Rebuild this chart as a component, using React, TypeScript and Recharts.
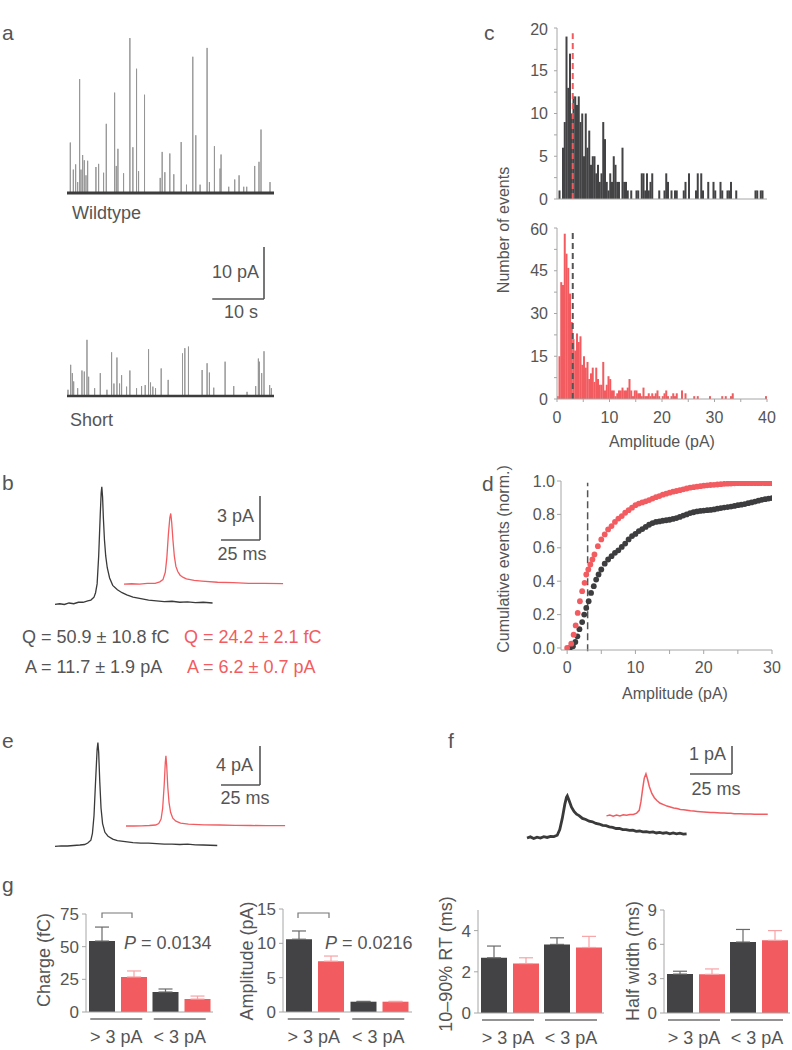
import React from 'react';
import {
  LineChart,
  Line,
  XAxis,
  YAxis,
  ReferenceLine,
  BarChart,
  Bar,
  ErrorBar,
  ScatterChart,
  Scatter,
} from 'recharts';

const INK = '#555555';
const DARK = '#434345';
const RED = '#f25c61';
const RED_ERR = '#f7a3a6';
const AXIS = '#a6a6a6';
const FONT = '"Liberation Sans", Arial, Helvetica, sans-serif';

// a: spontaneous events, time (s) and peak amplitude (pA)
const wtSpikeT = [0.64, 1.22, 1.67, 2.06, 2.44, 2.7, 3.02, 3.34, 3.67, 3.99, 5.59, 6.11, 7.07, 7.59, 9.2, 9.52, 9.84, 10.93, 12.15, 12.73, 13.44, 13.83, 14.98, 18.01, 18.39, 18.91, 19.87, 20.64, 22.06, 23.09, 24.31, 24.89, 25.72, 27.07, 27.52, 28.49, 29.58, 29.77, 31.25, 32.41, 33.25, 34.15, 34.73, 36.27, 37.1, 37.49, 39.23];
const wtSpikeA = [9.7, 4.5, 5.5, 2.1, 21.9, 4.5, 7.3, 6.3, 3.4, 6.2, 5.0, 5.6, 3.9, 13.3, 19.3, 5.2, 8.5, 3.8, 29.8, 8.8, 23.9, 4.2, 18.9, 2.9, 7.9, 4.0, 7.6, 3.6, 9.8, 1.6, 26.2, 11.1, 1.6, 27.9, 2.1, 9.0, 4.7, 7.4, 1.2, 2.6, 3.4, 1.2, 1.2, 5.2, 6.0, 12.2, 2.1];
const shSpikeT = [0.19, 0.71, 1.03, 1.29, 2.06, 2.89, 3.34, 3.86, 4.18, 5.34, 6.43, 7.72, 8.62, 9.07, 9.65, 10.16, 10.55, 11.51, 12.15, 13.44, 14.41, 15.11, 15.76, 16.14, 16.59, 17.11, 18.2, 19.55, 22.32, 22.77, 23.47, 26.11, 27.07, 27.52, 28.36, 30.55, 32.22, 34.79, 36.46, 36.98, 37.17, 37.62, 38.07, 39.16, 39.49];
const shSpikeA = [1.2, 6.0, 4.4, 2.8, 1.5, 4.9, 4.7, 10.8, 3.7, 1.5, 4.4, 1.2, 8.4, 2.4, 7.4, 2.4, 4.0, 1.8, 4.9, 1.5, 1.9, 2.1, 9.0, 2.6, 1.8, 1.5, 5.3, 3.1, 8.2, 9.2, 9.5, 5.0, 6.3, 4.5, 1.6, 6.6, 1.9, 0.8, 1.9, 7.2, 6.6, 4.4, 8.6, 2.1, 1.5];
const recordSpan = [0, 40];
const recordBase = [0, 0];

// b: average events, time (ms) and current (pA)
const bWtT = [0, 3, 6, 9, 12, 15, 18, 21, 23, 25, 26, 27, 28, 29, 29.6, 30, 30.5, 31, 31.7, 32.5, 33.5, 35, 37, 40, 43, 46, 50, 55, 60, 65, 70, 75, 80, 85, 90, 95, 101];
const bWtV = [-0.1, -0.05, -0.1, 0, -0.05, 0.05, 0.05, 0.15, 0.2, 0.4, 0.7, 1.3, 3.2, 6.0, 7.5, 7.9, 7.2, 5.8, 4.3, 3.2, 2.4, 1.7, 1.2, 0.9, 0.7, 0.55, 0.4, 0.3, 0.2, 0.15, 0.1, 0.12, 0.05, 0.08, 0.02, 0.05, 0.0];
const bShT = [0, 5, 10, 15, 20, 23, 25, 26.5, 27.5, 28.5, 29.4, 30, 30.6, 31.4, 32.3, 33.3, 34.5, 36, 38, 40, 45, 50, 60, 70, 80, 90, 102];
const bShV = [0, 0.02, 0, 0.05, 0.05, 0.15, 0.3, 0.8, 1.8, 3.4, 4.5, 4.8, 4.2, 3.0, 1.9, 1.2, 0.85, 0.6, 0.45, 0.35, 0.25, 0.2, 0.12, 0.1, 0.05, 0.05, 0.03];

// e: events > 3 pA
const eWtT = [0, 4, 8, 12, 16, 19, 21, 23, 24, 25, 26, 27, 27.5, 28, 28.7, 29.5, 30.5, 32, 34, 37, 40, 45, 50, 55, 60, 65, 70, 75, 80, 85, 90, 95, 104];
const eWtV = [-0.15, -0.1, -0.1, -0.05, 0, 0.05, 0.2, 0.5, 1.2, 3.0, 6.5, 9.8, 10.5, 9.5, 6.5, 3.8, 2.2, 1.3, 0.9, 0.6, 0.45, 0.35, 0.25, 0.2, 0.2, 0.15, 0.1, 0.1, 0.05, 0.08, 0.02, 0, -0.05];
const eShT = [0, 5, 10, 15, 19, 21, 22.5, 23.5, 24.5, 25.2, 25.6, 26.1, 26.8, 27.6, 28.6, 30, 32, 35, 40, 50, 60, 70, 80, 90, 102];
const eShV = [0, 0, 0.02, 0.05, 0.1, 0.25, 0.7, 1.8, 4.2, 6.5, 7.2, 6.2, 4.0, 2.4, 1.4, 0.8, 0.5, 0.3, 0.2, 0.12, 0.1, 0.06, 0.05, 0.04, 0.03];

// f: events < 3 pA
const fWtT = [0, 2, 4, 6, 8, 10, 12, 14, 16, 18, 19.5, 21, 22.5, 23.5, 24, 25, 26.5, 28, 29.5, 31, 33, 35, 37, 39, 41, 43, 45, 47, 49, 51, 53, 55, 57, 59, 61, 63, 65, 67, 69, 71, 73, 75, 77, 79, 81, 83, 85, 87, 89, 91, 93, 95];
const fWtV = [0.0, 0.04, -0.02, 0.03, 0.0, 0.05, 0.02, 0.06, 0.05, 0.1, 0.3, 0.7, 1.2, 1.45, 1.5, 1.35, 1.1, 0.95, 0.85, 0.8, 0.7, 0.66, 0.6, 0.58, 0.52, 0.5, 0.45, 0.44, 0.4, 0.38, 0.34, 0.34, 0.3, 0.3, 0.27, 0.28, 0.24, 0.25, 0.22, 0.23, 0.2, 0.22, 0.18, 0.2, 0.17, 0.19, 0.15, 0.18, 0.15, 0.17, 0.14, 0.15];
const fShT = [0, 2, 4, 6, 8, 10, 12, 14, 16, 18, 19.5, 20.5, 21.5, 22.5, 23.5, 24.5, 25.5, 27, 28.5, 30, 32, 34, 36, 38, 40, 42, 44, 46, 48, 50, 52, 54, 56, 58, 60, 62, 64, 66, 68, 70, 72, 74, 76, 78, 80, 82, 84, 86, 88, 90, 92, 94, 96];
const fShV = [0, 0.03, -0.01, 0.03, 0, 0.04, 0.02, 0.05, 0.05, 0.1, 0.2, 0.5, 0.95, 1.35, 1.5, 1.3, 1.05, 0.8, 0.65, 0.55, 0.45, 0.4, 0.35, 0.32, 0.28, 0.26, 0.23, 0.22, 0.2, 0.18, 0.17, 0.16, 0.15, 0.14, 0.13, 0.12, 0.12, 0.11, 0.1, 0.1, 0.09, 0.09, 0.08, 0.08, 0.08, 0.07, 0.07, 0.07, 0.06, 0.06, 0.06, 0.06, 0.06];

// c: amplitude histograms, 1/3 pA bins from 0 to 40 pA
const BIN = 1 / 3;
const wtCounts = [
  0, 1, 0, 6, 9, 19, 13, 17, 10, 12,
  12, 11, 12, 9, 10, 5, 10, 6, 8, 4,
  5, 5, 3, 4, 2, 3, 9, 7, 2, 1,
  3, 2, 5, 4, 2, 2, 0, 6, 2, 2,
  1, 0, 1, 0, 0, 1, 1, 0, 3, 3,
  1, 3, 1, 2, 3, 0, 0, 0, 1, 0,
  0, 1, 3, 2, 0, 1, 0, 1, 1, 0,
  0, 0, 1, 2, 0, 3, 0, 0, 0, 1,
  3, 0, 3, 1, 0, 0, 2, 0, 0, 2,
  1, 0, 0, 2, 1, 0, 0, 1, 1, 2,
  0, 0, 1, 0, 0, 0, 0, 0, 0, 0,
  0, 0, 0, 1, 1, 0, 1, 1, 0, 0,
];
const shCounts = [
  1, 15, 41, 40, 58, 51, 46, 37, 27, 21,
  17, 23, 20, 22, 12, 15, 11, 13, 7, 9,
  11, 6, 11, 7, 5, 5, 13, 3, 5, 8,
  7, 3, 3, 1, 2, 3, 3, 4, 3, 3,
  4, 7, 3, 1, 3, 3, 2, 2, 1, 4,
  1, 1, 2, 1, 2, 1, 2, 3, 1, 0,
  1, 2, 3, 1, 0, 1, 2, 1, 2, 0,
  0, 3, 0, 2, 0, 0, 0, 0, 1, 0,
  1, 0, 0, 0, 0, 0, 0, 1, 0, 0,
  0, 0, 0, 0, 1, 0, 1, 0, 0, 1,
  2, 0, 0, 0, 0, 0, 0, 0, 0, 0,
  0, 0, 0, 0, 0, 0, 0, 0, 0, 1,
];

// d: cumulative distributions
const wtCumX = [0.4, 0.85, 1.2, 1.5, 1.8, 2.2, 2.5, 2.8, 3.15, 3.5, 3.9, 4.25, 4.6, 5, 5.5, 6, 6.5, 7, 7.5, 8, 8.5, 9, 9.5, 10, 10.5, 11, 11.5, 12, 12.5, 13, 13.5, 14, 14.5, 15, 15.5, 16, 16.5, 17, 17.5, 18, 18.5, 19, 19.5, 20, 20.5, 21, 21.5, 22, 22.5, 23, 23.5, 24, 24.5, 25, 25.5, 26, 26.5, 27, 27.5, 28, 28.5, 29, 29.5, 30];
const wtCumY = [0.0, 0.01, 0.036, 0.07, 0.113, 0.155, 0.2, 0.24, 0.28, 0.33, 0.37, 0.41, 0.44, 0.47, 0.505, 0.53, 0.55, 0.57, 0.585, 0.605, 0.625, 0.65, 0.67, 0.683, 0.7, 0.712, 0.725, 0.738, 0.748, 0.755, 0.758, 0.762, 0.765, 0.768, 0.773, 0.778, 0.785, 0.793, 0.8, 0.808, 0.813, 0.818, 0.821, 0.823, 0.825, 0.827, 0.83, 0.834, 0.838, 0.841, 0.844, 0.847, 0.851, 0.855, 0.858, 0.862, 0.867, 0.872, 0.877, 0.882, 0.887, 0.891, 0.895, 0.898];
const shCumX = [0, 0.6, 0.95, 1.25, 1.55, 1.87, 2.2, 2.55, 2.8, 3.1, 3.4, 3.7, 4, 4.5, 5, 5.5, 6, 6.5, 7, 7.5, 8, 8.5, 9, 9.5, 10, 10.5, 11, 11.5, 12, 12.5, 13, 13.5, 14, 14.5, 15, 15.5, 16, 16.5, 17, 17.5, 18, 18.5, 19, 19.5, 20, 20.5, 21, 21.5, 22, 22.5, 23, 23.5, 24, 24.5, 25, 25.5, 26, 26.5, 27, 27.5, 28, 28.5, 29, 29.5, 30];
const shCumY = [0, 0.026, 0.08, 0.135, 0.21, 0.28, 0.34, 0.39, 0.44, 0.47, 0.5, 0.53, 0.56, 0.61, 0.65, 0.68, 0.71, 0.73, 0.755, 0.775, 0.79, 0.81, 0.825, 0.84, 0.855, 0.865, 0.872, 0.878, 0.886, 0.895, 0.903, 0.91, 0.918, 0.924, 0.93, 0.936, 0.94, 0.945, 0.95, 0.955, 0.96, 0.963, 0.966, 0.969, 0.972, 0.974, 0.976, 0.977, 0.979, 0.981, 0.983, 0.984, 0.985, 0.986, 0.987, 0.987, 0.987, 0.987, 0.987, 0.987, 0.987, 0.987, 0.987, 0.987, 0.987];

// g: summary (mean, s.e.m.)
const groups = ['> 3 pA', '< 3 pA'];
const chargeWt = [54.3, 15.3];
const chargeWtErr = [10.7, 2.3];
const chargeSh = [26.8, 9.9];
const chargeShErr = [4.6, 2.3];
const ampWt = [10.6, 1.5];
const ampWtErr = [1.2, 0.05];
const ampSh = [7.4, 1.5];
const ampShErr = [0.75, 0.05];
const rtWt = [2.68, 3.33];
const rtWtErr = [0.57, 0.32];
const rtSh = [2.4, 3.18];
const rtShErr = [0.28, 0.54];
const hwWt = [3.4, 6.2];
const hwWtErr = [0.25, 1.1];
const hwSh = [3.38, 6.35];
const hwShErr = [0.47, 0.85];

function spikeTrain(times: number[], amps: number[]) {
  const t: number[] = [];
  const v: number[] = [];
  times.forEach((tt, i) => {
    t.push(tt, tt, tt);
    v.push(0, amps[i], 0);
  });
  return { t, v };
}

type Trace = { t: number[]; v: number[]; dt?: number; dv?: number; color: string; width: number };

function TracePanel({ box, x0, y0, sx, sy, traces, bar }: any) {
  const xDomain = [(box.left - x0) / sx, (box.left + box.width - x0) / sx];
  const yDomain = [(y0 - box.top - box.height) / sy, (y0 - box.top) / sy];
  const bx = (bar.px - x0) / sx;
  const by = (y0 - bar.py) / sy;
  return (
    <div style={{ position: 'absolute', left: box.left, top: box.top }}>
      <LineChart width={box.width} height={box.height} margin={{ top: 0, right: 0, bottom: 0, left: 0 }}>
        <XAxis type="number" dataKey="t" domain={xDomain} hide allowDataOverflow />
        <YAxis type="number" domain={yDomain} hide allowDataOverflow />
        {traces.map((tr: Trace, i: number) => (
          <Line
            key={i}
            data={tr.t.map((t, j) => ({ t: t + (tr.dt || 0), v: tr.v[j] + (tr.dv || 0) }))}
            dataKey="v"
            type="linear"
            stroke={tr.color}
            strokeWidth={tr.width}
            dot={false}
            activeDot={false}
            isAnimationActive={false}
          />
        ))}
        <ReferenceLine segment={[{ x: bx, y: by }, { x: bx, y: by + bar.lenV }]} stroke={INK} strokeWidth={1.6} />
        <ReferenceLine segment={[{ x: bx - bar.lenT, y: by }, { x: bx, y: by }]} stroke={INK} strokeWidth={1.6} />
      </LineChart>
    </div>
  );
}

const histTick = { fill: INK, fontSize: 16 };

// each bin is drawn the full bin width wide so neighbouring bins touch
const binShape = (fill: string) => (p: any) => {
  if (!p.height) return <g />;
  const cx = p.x + p.width / 2;
  return <rect x={cx - 1.0} y={p.y} width={2.0} height={p.height} fill={fill} />;
};

function Histogram({ top, height, counts, color, yMax, yTicks, labelEvery, xLabels, xHeight, dashColor, dashTop }: any) {
  const data = counts.map((n: number, i: number) => ({ x: (i + 0.5) * BIN, n }));
  return (
    <div style={{ position: 'absolute', left: 500, top }}>
      <BarChart width={280} height={height} data={data} margin={{ top: 8, right: 13, left: 0, bottom: 0 }}>
        <XAxis
          type="number"
          dataKey="x"
          domain={[0, 40]}
          ticks={[0, 5, 10, 15, 20, 25, 30, 35, 40]}
          tickFormatter={(v: number) => (v % 10 === 0 ? String(v) : '')}
          tick={xLabels ? histTick : false}
          tickSize={3}
          tickMargin={10}
          height={xHeight}
          stroke={AXIS}
          allowDataOverflow
        />
        <YAxis
          type="number"
          domain={[0, yMax]}
          ticks={yTicks}
          tickFormatter={(v: number) => (v % labelEvery === 0 ? String(v) : '')}
          tick={histTick}
          tickSize={3}
          tickMargin={6}
          width={57}
          stroke={AXIS}
          allowDataOverflow
        />
        <Bar dataKey="n" fill={color} barSize={1.5} shape={binShape(color)} isAnimationActive={false} />
        <ReferenceLine
          segment={[{ x: 3, y: 0 }, { x: 3, y: dashTop }]}
          stroke={dashColor}
          strokeWidth={2}
          strokeDasharray="6 4"
        />
      </BarChart>
    </div>
  );
}

const cumDot = (fill: string) => (p: any) => <circle cx={p.cx} cy={p.cy} r={2.9} fill={fill} />;

function GroupTick(p: any) {
  return (
    <g>
      <line x1={p.x - 27.5} x2={p.x + 24.5} y1={p.y + 7} y2={p.y + 7} stroke="#6f6f6f" strokeWidth={1.6} />
      <text x={p.x - 1.5} y={p.y + 31} textAnchor="middle" fill={INK} fontSize={18}>
        {p.payload.value}
      </text>
    </g>
  );
}

function SummaryBars({ left, width, axisW, mTop, mRight, xH, wt, wtErr, sh, shErr, domain, ticks }: any) {
  const data = groups.map((cat, i) => ({
    cat,
    wt: wt[i],
    sh: sh[i],
    wtErr: [0, wtErr[i]],
    shErr: [0, shErr[i]],
  }));
  return (
    <div style={{ position: 'absolute', left, top: 895 }}>
      <BarChart width={width} height={155} data={data} margin={{ top: mTop, right: mRight, left: 0, bottom: 0 }} barGap={6}>
        <XAxis
          dataKey="cat"
          type="category"
          tickLine={false}
          tickSize={0}
          tickMargin={0}
          tick={<GroupTick />}
          interval={0}
          height={xH}
          stroke={AXIS}
        />
        <YAxis
          type="number"
          domain={domain}
          ticks={ticks}
          tick={{ fill: INK, fontSize: 17 }}
          tickSize={4}
          tickMargin={3}
          width={axisW}
          stroke={AXIS}
          allowDataOverflow
        />
        <Bar dataKey="wt" fill={DARK} barSize={26} isAnimationActive={false}>
          <ErrorBar dataKey="wtErr" width={7} stroke="#6a6a6a" strokeWidth={1.2} direction="y" />
        </Bar>
        <Bar dataKey="sh" fill={RED} barSize={26} isAnimationActive={false}>
          <ErrorBar dataKey="shErr" width={7} stroke={RED_ERR} strokeWidth={1.2} direction="y" />
        </Bar>
      </BarChart>
    </div>
  );
}

function VText({ x, y, size, children }: any) {
  return (
    <text
      x={x}
      y={y}
      fontSize={size}
      fill={INK}
      textAnchor="middle"
      dominantBaseline="central"
      transform={`rotate(-90 ${x} ${y})`}
    >
      {children}
    </text>
  );
}

export default function App() {
  const wtSpikes = spikeTrain(wtSpikeT, wtSpikeA);
  const shSpikes = spikeTrain(shSpikeT, shSpikeA);
  const aSy = 5.2;
  const shortBase = (193 - 396) / aSy;

  const wtCum = wtCumX.map((x, i) => ({ x, y: wtCumY[i] }));
  const shCum = shCumX.map((x, i) => ({ x, y: shCumY[i] }));

  return (
    <div
      style={{
        position: 'absolute',
        left: 0,
        top: 0,
        width: 792,
        height: 1050,
        background: '#fff',
        fontFamily: FONT,
        overflow: 'hidden',
      }}
    >
      {/* a */}
      <TracePanel
        box={{ left: 62, top: 30, width: 217, height: 380 }}
        x0={67}
        y0={193}
        sx={207 / 40}
        sy={aSy}
        traces={[
          { ...wtSpikes, color: '#969696', width: 1 },
          { t: recordSpan, v: recordBase, color: '#3c3c3c', width: 3 },
          { ...shSpikes, dv: shortBase, color: '#969696', width: 1 },
          { t: recordSpan, v: recordBase, dv: shortBase, color: '#3c3c3c', width: 2.6 },
        ]}
        bar={{ px: 264, py: 299, lenT: 10, lenV: 10 }}
      />

      {/* b */}
      <TracePanel
        box={{ left: 45, top: 470, width: 250, height: 145 }}
        x0={55}
        y0={603}
        sx={1.56}
        sy={14.7}
        traces={[
          { t: bWtT, v: bWtV, color: '#3a3a3a', width: 1.3 },
          { t: bShT, v: bShV, dt: 44.2, dv: 1.29, color: RED, width: 1.3 },
        ]}
        bar={{ px: 260, py: 540, lenT: 25, lenV: 3 }}
      />

      {/* e */}
      <TracePanel
        box={{ left: 45, top: 730, width: 250, height: 125 }}
        x0={55}
        y0={845}
        sx={1.56}
        sy={9.75}
        traces={[
          { t: eWtT, v: eWtV, color: '#3a3a3a', width: 1.3 },
          { t: eShT, v: eShV, dt: 45.5, dv: 1.95, color: RED, width: 1.3 },
        ]}
        bar={{ px: 260, py: 785, lenT: 25, lenV: 4 }}
      />

      {/* f */}
      <TracePanel
        box={{ left: 515, top: 735, width: 265, height: 115 }}
        x0={527}
        y0={838}
        sx={1.68}
        sy={28}
        traces={[
          { t: fWtT, v: fWtV, color: '#3a3a3a', width: 2.8 },
          { t: fShT, v: fShV, dt: 47.3, dv: 0.79, color: RED, width: 1.5 },
        ]}
        bar={{ px: 732, py: 774, lenT: 25, lenV: 1 }}
      />

      {/* c */}
      <Histogram
        top={20}
        height={200}
        counts={wtCounts}
        color={DARK}
        yMax={20}
        yTicks={[0, 2.5, 5, 7.5, 10, 12.5, 15, 17.5, 20]}
        labelEvery={5}
        xLabels={false}
        xHeight={21}
        dashColor={RED}
        dashTop={19.4}
      />
      <Histogram
        top={220}
        height={215}
        counts={shCounts}
        color={RED}
        yMax={60}
        yTicks={[0, 7.5, 15, 22.5, 30, 37.5, 45, 52.5, 60]}
        labelEvery={15}
        xLabels
        xHeight={36}
        dashColor="#555"
        dashTop={58.6}
      />

      {/* d */}
      <div style={{ position: 'absolute', left: 500, top: 470 }}>
        <ScatterChart width={285} height={210} margin={{ top: 11, right: 13, left: 0, bottom: 0 }}>
          <XAxis
            type="number"
            dataKey="x"
            domain={[-0.9, 30]}
            ticks={[0, 5, 10, 15, 20, 25, 30]}
            tickFormatter={(v: number) => (v % 10 === 0 ? String(v) : '')}
            tick={histTick}
            tickSize={4}
            tickMargin={8}
            height={30}
            stroke={AXIS}
            allowDataOverflow
          />
          <YAxis
            type="number"
            dataKey="y"
            domain={[-0.012, 1]}
            ticks={[0, 0.2, 0.4, 0.6, 0.8, 1]}
            tickFormatter={(v: number) => v.toFixed(1)}
            tick={histTick}
            tickSize={4}
            tickMargin={2}
            width={61}
            stroke={AXIS}
            allowDataOverflow
          />
          <Scatter data={wtCum} shape={cumDot('#3d3d3f')} isAnimationActive={false} />
          <Scatter data={shCum} shape={cumDot(RED)} isAnimationActive={false} />
          <ReferenceLine
            segment={[{ x: 3, y: -0.02 }, { x: 3, y: 0.99 }]}
            stroke="#555"
            strokeWidth={1.5}
            strokeDasharray="7 4"
            ifOverflow="visible"
          />
        </ScatterChart>
      </div>

      {/* g */}
      <SummaryBars left={20} width={200} axisW={66} mTop={19} mRight={7} xH={38}
        wt={chargeWt} wtErr={chargeWtErr} sh={chargeSh} shErr={chargeShErr}
        domain={[0, 75]} ticks={[0, 25, 50, 75]} />
      <SummaryBars left={220} width={197} axisW={63} mTop={14} mRight={5} xH={38}
        wt={ampWt} wtErr={ampWtErr} sh={ampSh} shErr={ampShErr}
        domain={[0, 15]} ticks={[0, 5, 10, 15]} />
      <SummaryBars left={420} width={189} axisW={58} mTop={15} mRight={5} xH={37}
        wt={rtWt} wtErr={rtWtErr} sh={rtSh} shErr={rtShErr}
        domain={[0, 5]} ticks={[0, 2, 4]} />
      <SummaryBars left={610} width={182} axisW={54} mTop={15} mRight={2} xH={37}
        wt={hwWt} wtErr={hwWtErr} sh={hwSh} shErr={hwShErr}
        domain={[0, 9]} ticks={[0, 3, 6, 9]} />

      <svg
        width={792}
        height={1050}
        style={{ position: 'absolute', left: 0, top: 0, pointerEvents: 'none' }}
        fontFamily={FONT}
      >
        <g fontSize={21} fill={INK}>
          <text x={2} y={40}>a</text>
          <text x={2} y={490}>b</text>
          <text x={484} y={40}>c</text>
          <text x={482} y={491}>d</text>
          <text x={2} y={748}>e</text>
          <text x={448} y={748}>f</text>
          <text x={2} y={892}>g</text>
        </g>

        <g fontSize={18} fill={INK}>
          <text x={72} y={219}>Wildtype</text>
          <text x={70} y={426}>Short</text>
          <text x={259} y={278} textAnchor="end">10 pA</text>
          <text x={241} y={318} textAnchor="middle">10 s</text>

          <text x={254} y={522} textAnchor="end">3 pA</text>
          <text x={242} y={560} textAnchor="middle">25 ms</text>
          <text x={22} y={643}>Q = 50.9 ± 10.8 fC</text>
          <text x={25} y={673}>A = 11.7 ± 1.9 pA</text>
          <text x={184} y={643} fill={RED}>Q = 24.2 ± 2.1 fC</text>
          <text x={187} y={673} fill={RED}>A = 6.2 ± 0.7 pA</text>

          <text x={253} y={771} textAnchor="end">4 pA</text>
          <text x={245} y={804} textAnchor="middle">25 ms</text>
          <text x={726} y={760} textAnchor="end">1 pA</text>
          <text x={716} y={795} textAnchor="middle">25 ms</text>

          <text x={124} y={949}>
            <tspan fontStyle="italic">P</tspan> = 0.0134
          </text>
          <text x={325} y={949}>
            <tspan fontStyle="italic">P</tspan> = 0.0216
          </text>
        </g>

        <g fill="none" stroke="#777" strokeWidth={1.2}>
          <polyline points="102,918 102,913 132,913 132,918" />
          <polyline points="298,918 298,913 329,913 329,918" />
        </g>

        <VText x={503} y={230} size={16}>Number of events</VText>
        <text x={662} y={441} fontSize={16} fill={INK} textAnchor="middle" dominantBaseline="central">
          Amplitude (pA)
        </text>
        <VText x={503} y={559} size={16}>Cumulative events (norm.)</VText>
        <text x={675} y={693} fontSize={16} fill={INK} textAnchor="middle" dominantBaseline="central">
          Amplitude (pA)
        </text>

        <VText x={44} y={960} size={18}>Charge (fC)</VText>
        <VText x={247} y={961} size={18}>Amplitude (pA)</VText>
        <VText x={446} y={964} size={18}>10–90% RT (ms)</VText>
        <VText x={633} y={961} size={18}>Half width (ms)</VText>
      </svg>
    </div>
  );
}
